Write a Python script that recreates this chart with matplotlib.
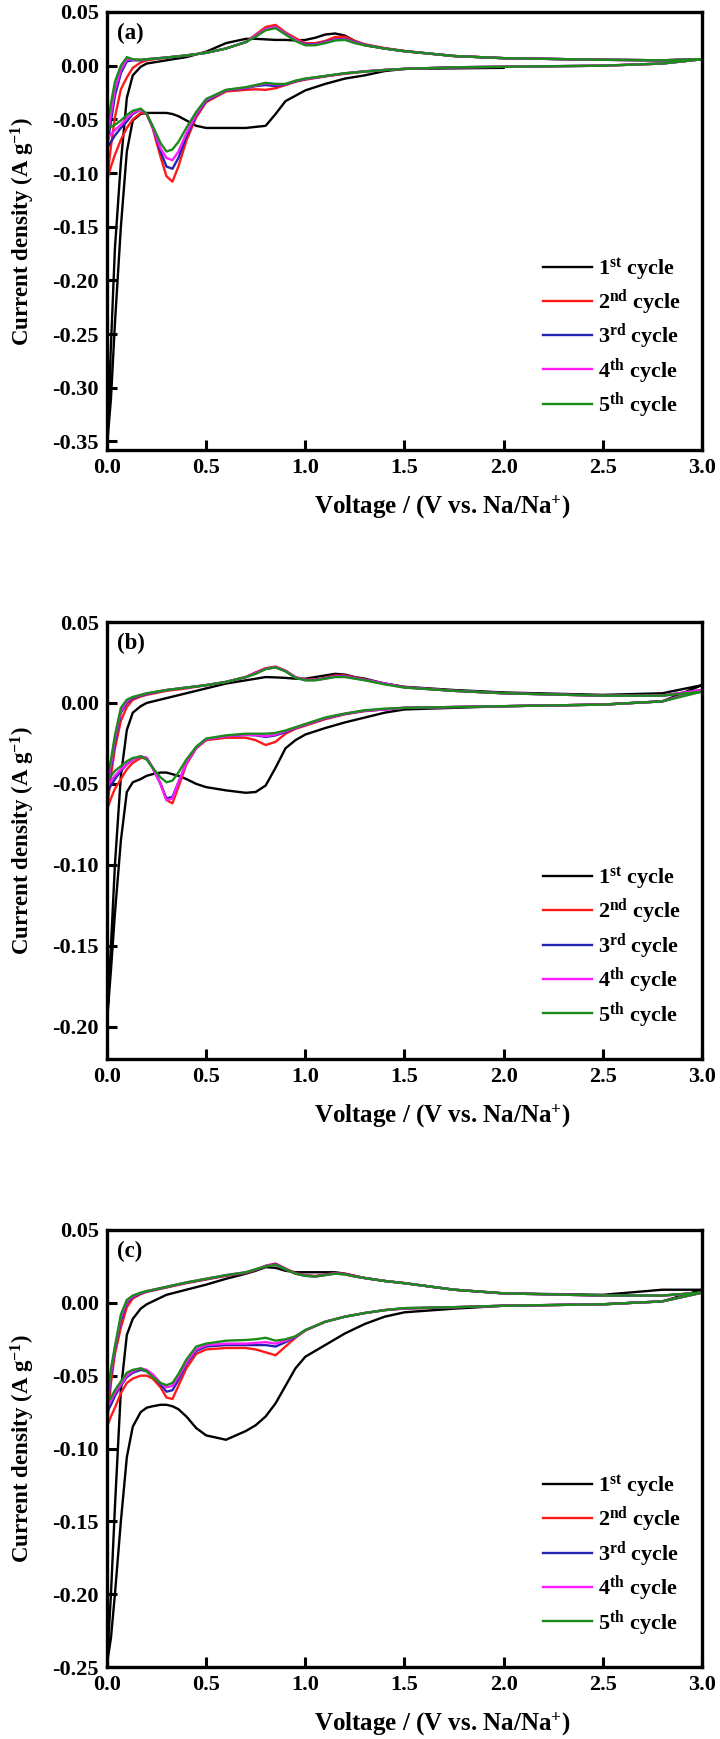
import numpy as np
import matplotlib
matplotlib.use('Agg')
import matplotlib.pyplot as plt
from matplotlib.ticker import MultipleLocator, FuncFormatter

plt.rcParams['font.family'] = 'Liberation Serif'
plt.rcParams['font.weight'] = 'bold'
plt.rcParams['axes.labelweight'] = 'bold'
plt.rcParams['mathtext.fontset'] = 'custom'
plt.rcParams['mathtext.rm'] = 'Liberation Serif:bold'
plt.rcParams['mathtext.it'] = 'Liberation Serif:bold:italic'
plt.rcParams['mathtext.bf'] = 'Liberation Serif:bold'
plt.rcParams['axes.unicode_minus'] = False

nan = np.nan

# voltage points, cathodic sweep (3.0 -> 0.0) and anodic sweep (0.0 -> 3.0)
VC = [3.0, 2.8, 2.5, 2.0, 1.75, 1.5, 1.4, 1.3, 1.2, 1.1, 1.0, 0.95, 0.9, 0.85, 0.8,
      0.75, 0.7, 0.6, 0.5, 0.45, 0.4, 0.36, 0.33, 0.3, 0.27, 0.23, 0.2, 0.17, 0.13, 0.1,
      0.07, 0.04, 0.02, 0.0]
VA = [0.0, 0.02, 0.04, 0.07, 0.1, 0.13, 0.17, 0.2, 0.3, 0.4, 0.5, 0.6, 0.7, 0.75, 0.8,
      0.85, 0.9, 0.95, 1.0, 1.05, 1.1, 1.15, 1.2, 1.25, 1.3, 1.4, 1.5, 1.75, 2.0, 2.5,
      2.8, 3.0]

# ---- panel (a) ----
a1_cath = [nan, nan, nan, -0.002, -0.0025, -0.003, -0.005, -0.009, -0.012, -0.017,
           -0.023, -0.028, -0.033, -0.045, -0.056, -0.057, -0.058, -0.058, -0.058, -0.056,
           -0.051, -0.047, -0.045, -0.044, -0.044, -0.044, -0.044, -0.045, -0.051, -0.080,
           -0.150, -0.240, -0.310, -0.355]
a2_cath = [0.006, 0.002, 0.0, -0.001, -0.0015, -0.003, -0.004, -0.0055, -0.0075, -0.010,
           -0.013, -0.015, -0.018, -0.021, -0.0225, -0.022, -0.0225, -0.024, -0.034, -0.048,
           -0.070, -0.094, -0.108, -0.103, -0.085, -0.058, -0.045, -0.044, -0.050, -0.058,
           -0.069, -0.083, -0.094, -0.107]
a3_cath = [0.006, 0.002, 0.0, -0.001, -0.0015, -0.003, -0.004, -0.0052, -0.0072, -0.0098,
           -0.0125, -0.0145, -0.0175, -0.019, -0.018, -0.019, -0.021, -0.023, -0.033, -0.046,
           -0.066, -0.086, -0.096, -0.094, -0.080, -0.057, -0.045, -0.041, -0.045, -0.052,
           -0.058, -0.065, -0.071, -0.077]
a4_cath = [0.006, 0.002, 0.0, -0.001, -0.0015, -0.003, -0.004, -0.0052, -0.0071, -0.0097,
           -0.0123, -0.0143, -0.0172, -0.0175, -0.0165, -0.0185, -0.0205, -0.0228, -0.032, -0.045,
           -0.063, -0.080, -0.088, -0.086, -0.077, -0.057, -0.045, -0.041, -0.044, -0.049,
           -0.055, -0.060, -0.064, -0.068]
a5_cath = [0.006, 0.002, 0.0, -0.001, -0.0015, -0.003, -0.004, -0.0055, -0.007, -0.0095,
           -0.012, -0.014, -0.017, -0.017, -0.016, -0.018, -0.020, -0.0225, -0.031, -0.043,
           -0.058, -0.071, -0.078, -0.080, -0.072, -0.056, -0.045, -0.040, -0.042, -0.046,
           -0.051, -0.055, -0.057, -0.058]
a1_anod = [-0.355, -0.26, -0.17, -0.09, -0.030, -0.009, -0.001, 0.002, 0.005, 0.008,
           0.013, 0.021, 0.025, 0.025, 0.0245, 0.024, 0.024, 0.0235, 0.024, 0.026,
           0.029, 0.030, 0.028, 0.023, 0.019, 0.016, 0.0135, 0.009, 0.007, 0.0055,
           0.005, 0.006]
a2_anod = [-0.107, -0.075, -0.048, -0.022, -0.011, -0.002, 0.003, 0.005, 0.0076, 0.0095,
           0.012, 0.016, 0.022, 0.029, 0.036, 0.038, 0.031, 0.0257, 0.021, 0.021,
           0.023, 0.0267, 0.027, 0.023, 0.020, 0.0164, 0.0137, 0.009, 0.007, 0.0055,
           0.005, 0.006]
a3_anod = [-0.077, -0.052, -0.028, -0.007, 0.004, 0.005, 0.005, 0.006, 0.0076, 0.0095,
           0.012, 0.016, 0.022, 0.028, 0.034, 0.036, 0.030, 0.024, 0.020, 0.020,
           0.022, 0.0245, 0.025, 0.022, 0.0195, 0.016, 0.0135, 0.009, 0.007, 0.0055,
           0.005, 0.006]
a4_anod = [-0.068, -0.045, -0.022, -0.004, 0.006, 0.0055, 0.0055, 0.006, 0.0076, 0.0095,
           0.012, 0.016, 0.022, 0.028, 0.034, 0.036, 0.030, 0.024, 0.0195, 0.0195,
           0.0215, 0.024, 0.0245, 0.0215, 0.0192, 0.016, 0.0135, 0.009, 0.007, 0.0055,
           0.005, 0.006]
a5_anod = [-0.058, -0.035, -0.015, 0.0, 0.008, 0.006, 0.0055, 0.006, 0.0076, 0.0095,
           0.012, 0.016, 0.022, 0.027, 0.033, 0.035, 0.029, 0.023, 0.019, 0.019,
           0.021, 0.0235, 0.024, 0.021, 0.019, 0.016, 0.0135, 0.009, 0.007, 0.0055,
           0.005, 0.006]

# ---- panel (b) ----
b1_cath = [0.011, 0.001, -0.001, -0.002, -0.003, -0.004, -0.006, -0.009, -0.012, -0.0155,
           -0.0195, -0.023, -0.028, -0.040, -0.051, -0.055, -0.0555, -0.054, -0.052, -0.050,
           -0.047, -0.045, -0.044, -0.043, -0.043, -0.044, -0.045, -0.047, -0.049, -0.055,
           -0.085, -0.130, -0.165, -0.197]
b2_cath = [0.008, 0.001, -0.001, -0.002, -0.0025, -0.003, -0.004, -0.005, -0.007, -0.010,
           -0.014, -0.016, -0.019, -0.024, -0.026, -0.023, -0.0215, -0.0215, -0.023, -0.028,
           -0.038, -0.052, -0.062, -0.060, -0.050, -0.040, -0.034, -0.034, -0.037, -0.041,
           -0.047, -0.053, -0.059, -0.066]
b3_cath = [0.008, 0.001, -0.001, -0.002, -0.0025, -0.003, -0.004, -0.0048, -0.0068, -0.0095,
           -0.0135, -0.0155, -0.018, -0.020, -0.021, -0.020, -0.0198, -0.0205, -0.0225, -0.0275,
           -0.037, -0.049, -0.058, -0.059, -0.050, -0.040, -0.034, -0.033, -0.035, -0.038,
           -0.042, -0.047, -0.051, -0.055]
b4_cath = [0.008, 0.001, -0.001, -0.002, -0.0025, -0.003, -0.004, -0.0047, -0.0067, -0.0093,
           -0.0133, -0.0153, -0.0175, -0.0195, -0.0205, -0.0198, -0.0196, -0.0205, -0.0225, -0.0275,
           -0.037, -0.049, -0.059, -0.060, -0.050, -0.040, -0.034, -0.033, -0.035, -0.038,
           -0.041, -0.045, -0.048, -0.052]
b5_cath = [0.007, 0.001, -0.001, -0.002, -0.0025, -0.003, -0.0035, -0.0045, -0.0065, -0.009,
           -0.013, -0.015, -0.017, -0.0185, -0.019, -0.019, -0.019, -0.020, -0.022, -0.027,
           -0.035, -0.043, -0.048, -0.049, -0.046, -0.040, -0.035, -0.033, -0.034, -0.036,
           -0.039, -0.042, -0.045, -0.048]
b1_anod = [-0.197, -0.150, -0.100, -0.045, -0.0167, -0.006, -0.002, 0.0, 0.003, 0.006,
           0.009, 0.012, 0.014, 0.015, 0.016, 0.0158, 0.0155, 0.015, 0.015, 0.016,
           0.017, 0.018, 0.0175, 0.016, 0.015, 0.012, 0.010, 0.008, 0.0065, 0.005,
           0.006, 0.011]
b2_anod = [-0.066, -0.045, -0.028, -0.011, -0.0025, 0.002, 0.004, 0.005, 0.0075, 0.009,
           0.011, 0.013, 0.016, 0.019, 0.0215, 0.0225, 0.020, 0.016, 0.0145, 0.0145,
           0.0155, 0.017, 0.017, 0.0158, 0.0145, 0.012, 0.0098, 0.0075, 0.006, 0.0045,
           0.0045, 0.008]
b3_anod = [-0.055, -0.040, -0.024, -0.006, 0.0, 0.003, 0.0045, 0.0055, 0.008, 0.0095,
           0.011, 0.013, 0.016, 0.0185, 0.021, 0.022, 0.0198, 0.0158, 0.0142, 0.0142,
           0.0152, 0.0165, 0.0165, 0.0155, 0.0143, 0.012, 0.0097, 0.0075, 0.006, 0.0045,
           0.0045, 0.008]
b4_anod = [-0.052, -0.038, -0.022, -0.005, 0.001, 0.0035, 0.0048, 0.0058, 0.008, 0.0095,
           0.011, 0.013, 0.016, 0.0185, 0.0212, 0.0222, 0.0198, 0.0158, 0.0142, 0.0142,
           0.015, 0.0163, 0.0163, 0.0153, 0.0142, 0.012, 0.0096, 0.0075, 0.006, 0.0045,
           0.0045, 0.008]
b5_anod = [-0.048, -0.035, -0.020, -0.003, 0.002, 0.0037, 0.005, 0.006, 0.008, 0.0095,
           0.011, 0.013, 0.016, 0.018, 0.021, 0.022, 0.0195, 0.0155, 0.014, 0.014,
           0.015, 0.016, 0.016, 0.015, 0.014, 0.0115, 0.0095, 0.0075, 0.006, 0.0045,
           0.0045, 0.007]

# ---- panel (c) ----
c1_cath = [0.009, 0.001, -0.001, -0.002, -0.004, -0.0065, -0.0095, -0.0145, -0.021, -0.029,
           -0.037, -0.045, -0.057, -0.069, -0.078, -0.084, -0.088, -0.094, -0.091, -0.086,
           -0.078, -0.073, -0.071, -0.070, -0.070, -0.071, -0.072, -0.075, -0.085, -0.106,
           -0.150, -0.200, -0.230, -0.248]
c2_cath = [0.007, 0.001, -0.001, -0.002, -0.003, -0.004, -0.005, -0.007, -0.0095, -0.013,
           -0.019, -0.024, -0.030, -0.036, -0.034, -0.032, -0.031, -0.031, -0.032, -0.035,
           -0.045, -0.057, -0.066, -0.065, -0.058, -0.052, -0.050, -0.050, -0.052, -0.055,
           -0.062, -0.072, -0.078, -0.085]
c3_cath = [0.007, 0.001, -0.001, -0.002, -0.003, -0.0038, -0.005, -0.007, -0.0095, -0.013,
           -0.0188, -0.0235, -0.027, -0.030, -0.029, -0.029, -0.029, -0.029, -0.030, -0.033,
           -0.042, -0.053, -0.060, -0.061, -0.056, -0.050, -0.047, -0.046, -0.048, -0.051,
           -0.057, -0.064, -0.070, -0.075]
c4_cath = [0.007, 0.001, -0.001, -0.002, -0.003, -0.0037, -0.005, -0.007, -0.0095, -0.013,
           -0.0188, -0.0232, -0.026, -0.028, -0.027, -0.0275, -0.028, -0.028, -0.029, -0.032,
           -0.041, -0.051, -0.057, -0.058, -0.055, -0.049, -0.046, -0.045, -0.047, -0.050,
           -0.056, -0.062, -0.067, -0.072]
c5_cath = [0.007, 0.001, -0.001, -0.002, -0.003, -0.0036, -0.005, -0.007, -0.0095, -0.013,
           -0.0187, -0.023, -0.025, -0.026, -0.024, -0.025, -0.0255, -0.026, -0.028, -0.030,
           -0.039, -0.049, -0.055, -0.0565, -0.055, -0.051, -0.047, -0.045, -0.046, -0.048,
           -0.054, -0.060, -0.065, -0.069]
c1_anod = [-0.248, -0.200, -0.140, -0.060, -0.022, -0.011, -0.004, -0.001, 0.0055, 0.009,
           0.0125, 0.0165, 0.020, 0.022, 0.0245, 0.024, 0.022, 0.021, 0.021, 0.021,
           0.021, 0.021, 0.020, 0.0185, 0.017, 0.015, 0.0135, 0.009, 0.0065, 0.0055,
           0.009, 0.009]
c2_anod = [-0.085, -0.055, -0.035, -0.017, -0.003, 0.003, 0.006, 0.0075, 0.0105, 0.0135,
           0.016, 0.0185, 0.0205, 0.0225, 0.0255, 0.027, 0.0235, 0.0205, 0.019, 0.0185,
           0.0195, 0.0205, 0.020, 0.0185, 0.017, 0.015, 0.0135, 0.009, 0.0065, 0.005,
           0.005, 0.007]
c3_anod = [-0.075, -0.050, -0.032, -0.012, 0.0, 0.004, 0.0065, 0.0078, 0.0108, 0.0138,
           0.0163, 0.0188, 0.0207, 0.0228, 0.0252, 0.0265, 0.0232, 0.0202, 0.0187, 0.0182,
           0.0192, 0.0202, 0.0197, 0.0182, 0.017, 0.015, 0.0135, 0.009, 0.0065, 0.005,
           0.005, 0.007]
c4_anod = [-0.072, -0.048, -0.031, -0.010, 0.001, 0.0045, 0.0068, 0.008, 0.011, 0.014,
           0.0165, 0.019, 0.021, 0.023, 0.0252, 0.0262, 0.023, 0.020, 0.0186, 0.0181,
           0.0191, 0.0201, 0.0196, 0.0181, 0.017, 0.015, 0.0135, 0.009, 0.0065, 0.005,
           0.005, 0.007]
c5_anod = [-0.069, -0.045, -0.030, -0.008, 0.002, 0.005, 0.007, 0.008, 0.011, 0.014,
           0.0165, 0.019, 0.021, 0.023, 0.025, 0.026, 0.023, 0.020, 0.0185, 0.018,
           0.019, 0.020, 0.0195, 0.018, 0.017, 0.015, 0.0135, 0.009, 0.0065, 0.005,
           0.005, 0.007]

cycle_labels = [r'1$^{\mathrm{st}}$ cycle', r'2$^{\mathrm{nd}}$ cycle', r'3$^{\mathrm{rd}}$ cycle',
                r'4$^{\mathrm{th}}$ cycle', r'5$^{\mathrm{th}}$ cycle']
colors = ['black', '#ff1a1a', '#2424b0', '#ff1aff', '#1a8c1a']

panels = [
    ('(a)', -0.358, [(a1_cath, a1_anod), (a2_cath, a2_anod), (a3_cath, a3_anod),
                     (a4_cath, a4_anod), (a5_cath, a5_anod)]),
    ('(b)', -0.22, [(b1_cath, b1_anod), (b2_cath, b2_anod), (b3_cath, b3_anod),
                    (b4_cath, b4_anod), (b5_cath, b5_anod)]),
    ('(c)', -0.25, [(c1_cath, c1_anod), (c2_cath, c2_anod), (c3_cath, c3_anod),
                    (c4_cath, c4_anod), (c5_cath, c5_anod)]),
]
# axes boxes in figure fraction
boxes = [[0.1486, 0.7412, 0.8264, 0.2519],
         [0.1486, 0.3910, 0.8264, 0.2513],
         [0.1486, 0.0414, 0.8264, 0.2513]]

fig = plt.figure(figsize=(7.2, 17.39), dpi=100)

fmt_y = FuncFormatter(lambda v, p: '%.2f' % (round(v, 2) + 0.0))
fmt_x = FuncFormatter(lambda v, p: '%.1f' % (round(v, 1) + 0.0))

for (tag, ymin, cycles), box in zip(panels, boxes):
    ax = fig.add_axes(box)
    handles = []
    for (cath, anod), col in zip(cycles, colors):
        x = VC + VA
        y = cath + anod
        ln, = ax.plot(x, y, color=col, lw=1.7, solid_joinstyle='round')
        handles.append(ln)
    ax.set_xlim(0, 3.0)
    ax.set_ylim(ymin, 0.05)
    ax.xaxis.set_major_locator(MultipleLocator(0.5))
    ax.yaxis.set_major_locator(MultipleLocator(0.05))
    ax.xaxis.set_major_formatter(fmt_x)
    ax.yaxis.set_major_formatter(fmt_y)
    ax.tick_params(direction='in', length=7, width=2.2, labelsize=16, pad=6,
                   top=False, right=False)
    for lab in ax.get_xticklabels() + ax.get_yticklabels():
        lab.set_fontweight('bold')
    for sp in ax.spines.values():
        sp.set_linewidth(2.4)
    ax.set_xlabel(r'Voltage / (V vs. Na/Na$^{\mathrm{+}}$)', fontsize=18,
                  fontweight='bold')
    ax.xaxis.set_label_coords(0.563, -0.098)
    ax.set_ylabel(r'Current density (A g$^{\mathrm{-1}}$)', fontsize=16.5,
                  fontweight='bold')
    ax.yaxis.set_label_coords(-0.118, 0.5)
    ax.text(0.017, 0.952, tag, transform=ax.transAxes, fontsize=16.5,
            fontweight='bold', ha='left', va='center')
    ax.legend(handles, cycle_labels, loc='upper left', bbox_to_anchor=(0.733, 0.443),
              frameon=False, prop={'size': 16, 'weight': 'bold'}, handlelength=2.2,
              handletextpad=0.25, labelspacing=0.22, borderpad=0, borderaxespad=0)

fig.savefig('out.png', dpi=100)
